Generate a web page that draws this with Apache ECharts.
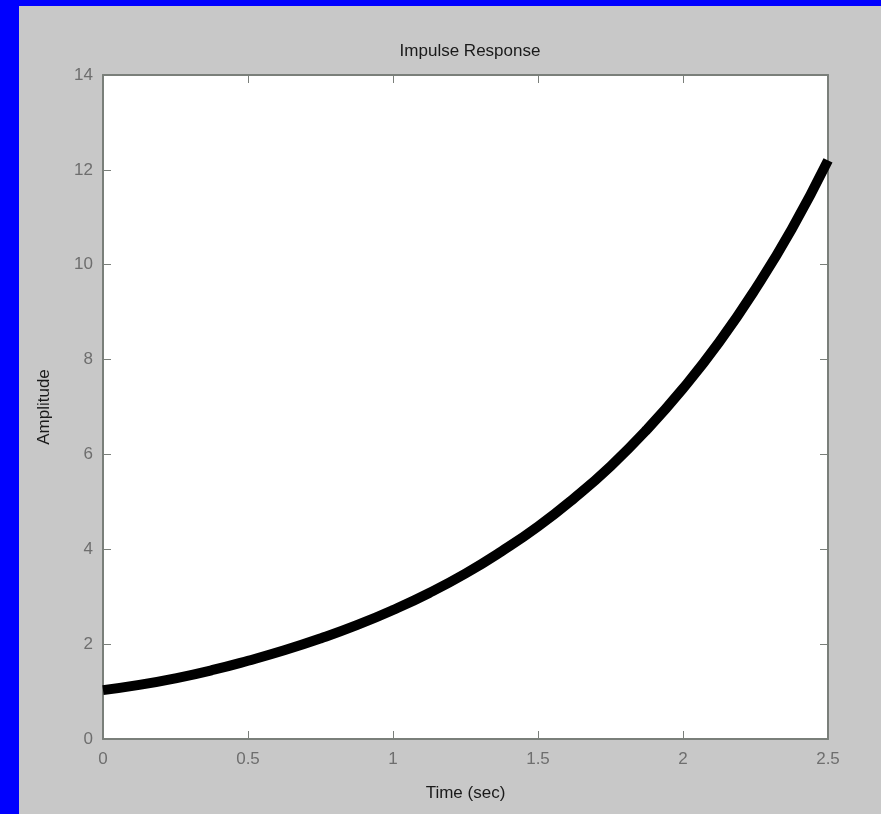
<!DOCTYPE html>
<html>
<head>
<meta charset="utf-8">
<script src="https://cdn.jsdelivr.net/npm/echarts@6/dist/echarts.min.js"></script>
<style>
  html, body { margin: 0; padding: 0; background: #0000ff; width: 881px; height: 814px; overflow: hidden; }
  #chart { position: absolute; left: 19px; top: 6px; width: 862px; height: 808px; background: #c8c8c8; }
</style>
</head>
<body>
<div id="chart"></div>
<script>
// time (sec) and amplitude
const time = [0, 0.125, 0.25, 0.375, 0.5, 0.625, 0.75, 0.875, 1, 1.125, 1.25, 1.375, 1.5, 1.625, 1.75, 1.875, 2, 2.125, 2.25, 2.375, 2.5]
const amplitude = [1.03, 1.14, 1.28, 1.45, 1.65, 1.87, 2.12, 2.4, 2.72, 3.08, 3.49, 3.96, 4.48, 5.08, 5.75, 6.52, 7.39, 8.37, 9.49, 10.75, 12.2]

const fontFamily = '"Liberation Sans", Arial, sans-serif'
const tickColor = '#6e6e6e'
const lineColor = '#7a7f7a'

const myChart = echarts.init(document.getElementById('chart'))
const axisBase = {
  axisLine: { show: true, onZero: false, lineStyle: { color: lineColor, width: 2 } },
  axisTick: { show: true, inside: true, length: 8, lineStyle: { color: lineColor, width: 1 } },
  splitLine: { show: false }
}
const option = {
  animation: false,
  title: {
    text: 'Impulse Response',
    left: 446,
    top: 32,
    textAlign: 'center',
    textStyle: { fontFamily, fontSize: 17, fontWeight: 'normal', color: '#1a1a1a' }
  },
  grid: { left: 84, right: 53, top: 69, bottom: 75, show: true, backgroundColor: '#ffffff', borderWidth: 0 },
  xAxis: [
    Object.assign({}, axisBase, {
      type: 'value',
      min: 0,
      max: 2.5,
      interval: 0.5,
      position: 'bottom',
      name: 'Time (sec)',
      nameLocation: 'middle',
      nameGap: 46,
      nameTextStyle: { fontFamily, fontSize: 17, color: '#1a1a1a' },
      axisLabel: { fontFamily, fontSize: 17, color: tickColor, margin: 12 }
    }),
    Object.assign({}, axisBase, {
      type: 'value',
      min: 0,
      max: 2.5,
      interval: 0.5,
      position: 'top',
      axisLabel: { show: false }
    })
  ],
  yAxis: [
    Object.assign({}, axisBase, {
      type: 'value',
      min: 0,
      max: 14,
      interval: 2,
      position: 'left',
      name: 'Amplitude',
      nameLocation: 'middle',
      nameGap: 50,
      nameTextStyle: { fontFamily, fontSize: 17, color: '#1a1a1a' },
      axisLabel: { fontFamily, fontSize: 17, color: tickColor, margin: 10 }
    }),
    Object.assign({}, axisBase, {
      type: 'value',
      min: 0,
      max: 14,
      interval: 2,
      position: 'right',
      axisLabel: { show: false }
    })
  ],
  series: [
    {
      type: 'line',
      data: time.map((t, i) => [t, amplitude[i]]),
      smooth: true,
      showSymbol: false,
      lineStyle: { color: '#000000', width: 10 },
      z: 1
    }
  ]
}
option && myChart.setOption(option)
</script>
</body>
</html>
